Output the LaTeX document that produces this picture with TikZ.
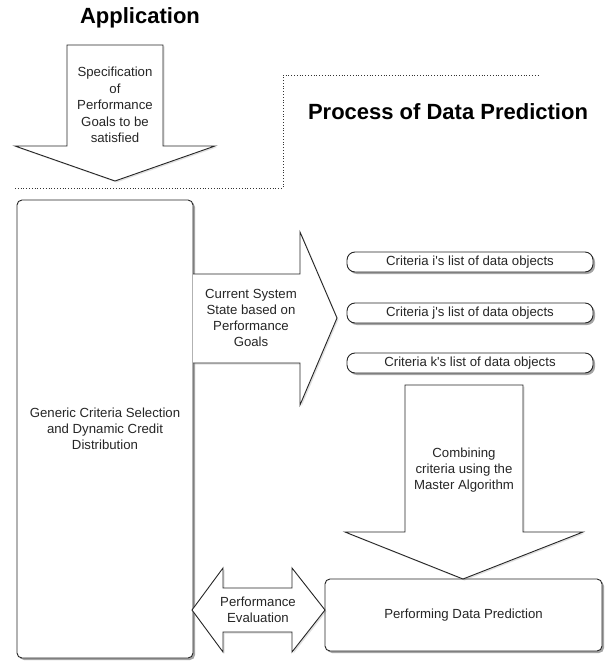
\documentclass[tikz,border=0pt]{standalone}
\usepackage{fontspec}
\setmainfont{Liberation Sans}
\usetikzlibrary{shadows}
\begin{document}
\begin{tikzpicture}[x=1pt, y=-1pt,
  outline/.style={draw=black!85, line width=0.9pt, fill=white, line join=miter},
  boxshade/.style={drop shadow={shadow xshift=2pt, shadow yshift=-2pt, opacity=0.5, fill=black!70}},
  arrowshade/.style={drop shadow={shadow xshift=1.5pt, shadow yshift=-1.5pt, opacity=0.2, fill=black!60}},
  txt/.style={font=\fontsize{13.2}{16}\selectfont, text=black!85, align=center, inner sep=0pt},
  heading/.style={font=\fontsize{22}{26}\selectfont\bfseries, inner sep=0pt},
  roundbox/.style={outline, boxshade, rounded corners=5pt, txt},
  listbox/.style={outline, boxshade, rounded corners=8pt, txt, minimum width=246pt, minimum height=20pt}]

\useasboundingbox (0,0) rectangle (605,663);

% headings
\node[heading] (app) at (140,18) {Application};
\node[heading] (proc) at (448,112) {Process of Data Prediction};

% dotted border of the prediction process
\draw[dotted, line width=0.8pt, black!80] (15,188) -- (283,188) -- (283,75) -- (540,75);

% arrow carrying the performance goals downwards
\draw[outline, arrowshade] (67,45) -- (163,45) -- (163,146) -- (215,146) -- (115,181)
  -- (15,146) -- (67,146) -- cycle;
\node[txt, font=\fontsize{13.2}{16.5}\selectfont] (spec) at (115,105)
  {Specification\\of\\Performance\\Goals to be\\satisfied};

% criteria selection box
\node[roundbox, minimum width=176pt, minimum height=458pt] (gen) at (105,429)
  {Generic Criteria Selection\\and Dynamic Credit\\Distribution};

% arrow to the criteria lists
\draw[outline, arrowshade] (193,274) -- (300,274) -- (300,232) -- (337,318)
  -- (300,405) -- (300,363) -- (193,363);
\node[txt] (state) at (251,318)
  {Current System\\State based on\\Performance\\Goals};

% criteria lists
\node[listbox] (ci) at (470,262) {Criteria i\textquotesingle s list of data objects};
\node[listbox] (cj) at (470,313) {Criteria j\textquotesingle s list of data objects};
\node[listbox] (ck) at (470,363) {Criteria k\textquotesingle s list of data objects};

% prediction box
\node[roundbox, minimum width=277pt, minimum height=72pt] (pred) at (463.5,615)
  {Performing Data Prediction};

% arrow combining the criteria
\draw[outline, arrowshade] (405,385) -- (523,385) -- (523,532) -- (583,532) -- (463,579)
  -- (345,532) -- (405,532) -- cycle;
\node[txt] (comb) at (464,470)
  {Combining\\criteria using the\\Master Algorithm};

% two-way arrow for the evaluation feedback
\draw[outline, arrowshade] (192,610) -- (223,568) -- (223,588) -- (292,588) -- (292,568)
  -- (325,610) -- (292,652) -- (292,632) -- (223,632) -- (223,652) -- cycle;
\node[txt] (eval) at (258,610) {Performance\\Evaluation};

\end{tikzpicture}
\end{document}
